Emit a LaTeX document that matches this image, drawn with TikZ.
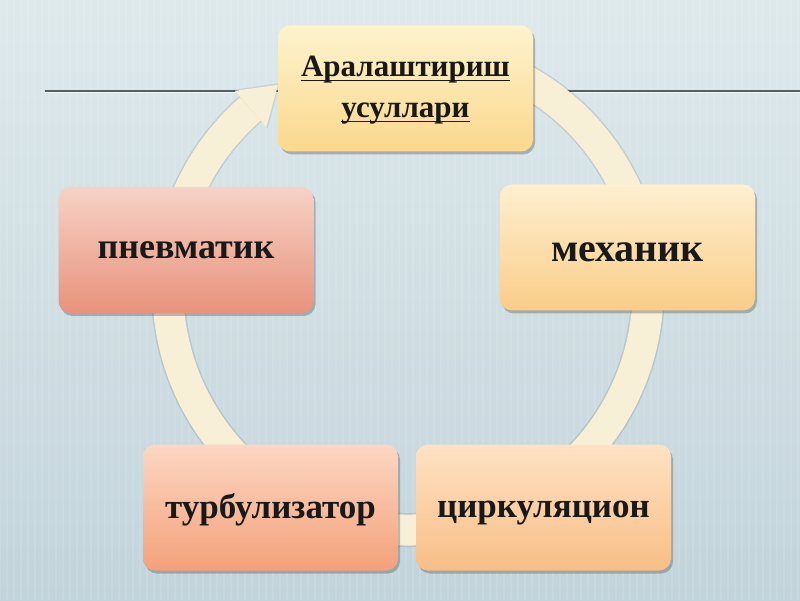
\documentclass[tikz,border=0pt]{standalone}
\usepackage{fontspec}
\setmainfont{Liberation Serif}
\usetikzlibrary{shadows}
\newcommand\thul[1]{\setbox0\hbox{#1}\rlap{\rule[-4.5pt]{\wd0}{1.8pt}}\box0}
\definecolor{bgtop}{RGB}{222,233,236}
\definecolor{bgbot}{RGB}{194,212,219}
\definecolor{linecol}{RGB}{85,95,100}
\definecolor{ringcol}{RGB}{247,240,214}
\definecolor{topA}{RGB}{254,243,206}
\definecolor{topB}{RGB}{251,216,140}
\definecolor{mexA}{RGB}{254,239,208}
\definecolor{mexB}{RGB}{250,205,136}
\definecolor{pnA}{RGB}{246,210,198}
\definecolor{pnB}{RGB}{232,146,124}
\definecolor{tuA}{RGB}{252,215,195}
\definecolor{tuB}{RGB}{244,161,122}
\definecolor{ciA}{RGB}{254,226,196}
\definecolor{ciB}{RGB}{248,190,134}
\tikzset{
  box/.style={rounded corners=12pt, minimum width=255pt, minimum height=126pt,
    inner sep=0pt,
    drop shadow={shadow xshift=2pt, shadow yshift=-3pt, opacity=0.35, fill=black!70}},
  lbl/.style={anchor=base, inner sep=0pt, text=black!90},
  ring/.style={ringcol, line width=31pt}
}
\begin{document}
\begin{tikzpicture}[x=1pt,y=1pt]
\useasboundingbox (0,0) rectangle (800,600);
\shade[top color=bgtop, bottom color=bgbot] (0,0) rectangle (800,600);
\foreach \x in {0,7,...,800} \draw[white, opacity=0.10, line width=2pt] (\x,0)--(\x,600);
% horizontal rule
\draw[white, opacity=0.6, line width=1pt] (45,507.6)--(800,507.6);
\draw[linecol, line width=1.5pt] (45,509)--(800,509);
% ring
\draw[black, opacity=0.10, line width=34pt] ([shift={(75:240pt)}]408,310) arc[start angle=75, end angle=-229, radius=240pt];
\draw[ring] ([shift={(75:240pt)}]408,310) arc[start angle=75, end angle=-229, radius=240pt];
\fill[black, opacity=0.08] (233.5,510.2) -- (280.0,517.1) -- (267.7,471.4) -- cycle;
\fill[ringcol] (234.8,509.2) -- (278.0,515.1) -- (266.3,472.9) -- cycle;
% boxes
\node[box, top color=topA, bottom color=topB] (top) at (405.5,511.5) {};
\node[box, top color=mexA, bottom color=mexB] (mex) at (627.5,352.5) {};
\node[box, top color=pnA, bottom color=pnB] (pn) at (186,350) {};
\node[box, top color=tuA, bottom color=tuB] (tu) at (270.5,92.5) {};
\node[box, top color=ciA, bottom color=ciB] (ci) at (543.5,92.5) {};
% labels
\node[lbl, font=\fontsize{31}{40}\selectfont\bfseries] (t1) at (405.5,523) {\thul{Аралаштириш}};
\node[lbl, font=\fontsize{31}{40}\selectfont\bfseries] (t2) at (405.5,482) {\thul{усуллари}};
\node[lbl, font=\fontsize{40}{48}\selectfont\bfseries] (tmex) at (627.5,338) {механик};
\node[lbl, font=\fontsize{36}{44}\selectfont\bfseries] (tpn) at (186,341) {пневматик};
\node[lbl, font=\fontsize{35}{42}\selectfont\bfseries] (ttu) at (270.5,82) {турбулизатор};
\node[lbl, font=\fontsize{35}{42}\selectfont\bfseries] (tci) at (543.5,83) {циркуляцион};
\end{tikzpicture}
\end{document}
